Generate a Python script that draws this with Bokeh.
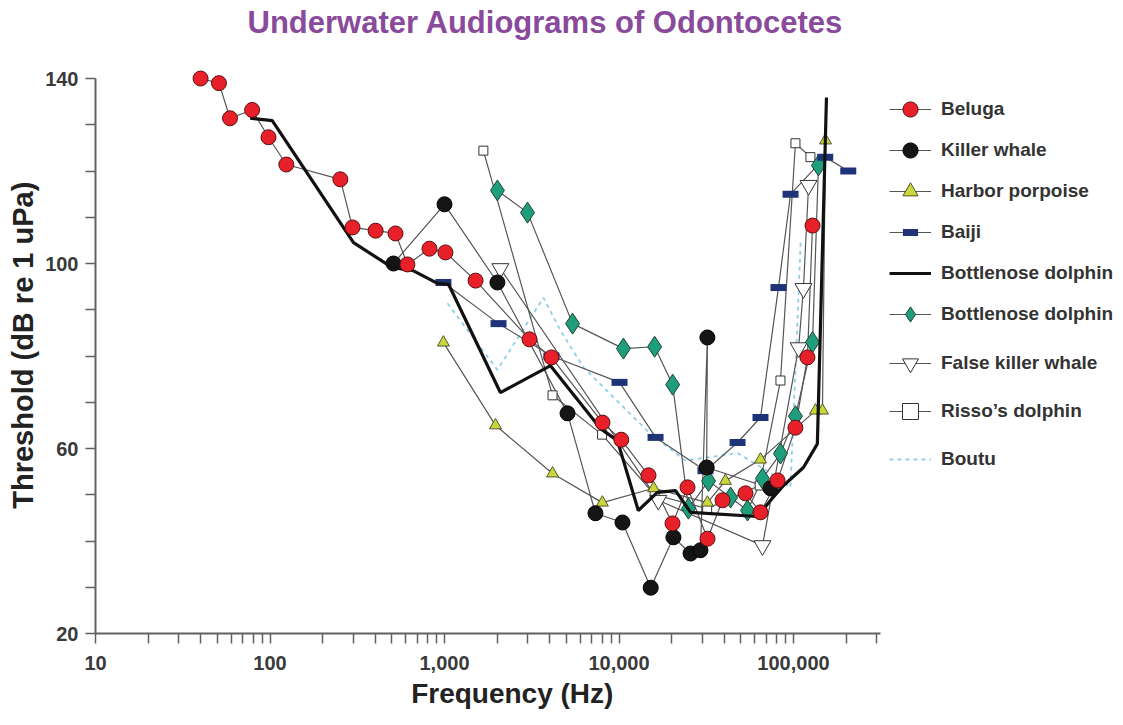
from bokeh.plotting import figure
from bokeh.models import FixedTicker, Legend, LegendItem, Range1d, Label
from bokeh.embed import file_html
from bokeh.resources import INLINE

# ---------------- data ----------------
beluga_f = [40, 51, 59, 79, 98, 124, 253, 297, 403, 524, 613, 820, 1013, 1507, 3070, 4100,
            8040, 10300, 14760, 20260, 24700, 32150, 39200, 53100, 64700, 81000, 102600, 120200, 128500]
beluga_db = [140, 139, 131.4, 133.2, 127.3, 121.4, 118.2, 107.8, 107.1, 106.5, 99.8, 103.2, 102.4, 96.3,
             83.6, 79.7, 65.6, 61.9, 54.2, 43.8, 51.6, 40.5, 48.8, 50.3, 46.2, 53.1, 64.5, 79.7, 108.2]

killer_f = [510, 1000, 2010, 5070, 7330, 10470, 15200, 20500, 25700, 29300, 32100, 31800, 73800]
killer_db = [100, 112.8, 95.9, 67.6, 46, 44, 29.9, 40.8, 37.3, 38, 84, 55.9, 51.4]

harbor_f = [986, 1960, 4160, 8030, 15800, 32100, 40700, 64700, 133700, 146500, 152500]
harbor_db = [82.9, 65, 54.6, 48.3, 51.4, 48.3, 53, 57.6, 68.2, 68.2, 126.6]

baiji_f = [986, 2040, 4100, 10070, 16200, 31300, 47800, 64700, 82000, 96200, 152000, 206000]
baiji_db = [95.9, 87, 80, 74.3, 62.4, 55.2, 61.3, 66.7, 94.8, 115, 123, 120]

bottle_f = [77, 103, 301, 503, 656, 912, 1055, 2090, 4050, 7830, 9800, 12900, 16600, 21100,
            25700, 62200, 74000, 87700, 114000, 137000, 154500]
bottle_db = [131.4, 130.9, 104.5, 99.1, 98.5, 95.7, 95.5, 72.1, 77.9, 64.3, 61.7, 46.6, 50.5, 50.9,
             46.2, 45.3, 48.8, 52, 55.9, 61, 135.9]

bottle2_f = [2010, 2990, 5420, 10600, 16000, 20300, 25000, 32600, 43600, 54500, 66400, 84200, 102600, 128500, 139000]
bottle2_db = [115.8, 111, 87, 81.6, 82, 73.8, 47, 53, 49.4, 46.6, 53.5, 58.9, 67, 83, 121.2]

fkw_f = [2090, 16800, 66400, 107000, 114000, 122000]
fkw_db = [98.9, 48.8, 39, 81.8, 94.6, 116.9]

risso_f = [1670, 4160, 8000, 16000, 32000, 64000, 84200, 102600, 125000]
risso_db = [124.4, 71.5, 63, 50, 47, 52, 74.7, 126, 123]

boutu_f = [1040, 2010, 3690, 4620, 6270, 15100, 24000, 47800, 72000, 96000, 105000, 110000]
boutu_db = [91.4, 77, 92.6, 85.5, 77.5, 63.2, 57.4, 59, 55, 51.6, 86, 105]

x_major = [10, 100, 1000, 10000, 100000]
x_labels = ["10", "100", "1,000", "10,000", "100,000"]
y_major = [20, 60, 100, 140]
y_minor = [30, 40, 50, 70, 80, 90, 110, 120, 130]

FONT = "Liberation Sans"
LINE = "#555555"

# the frame spans the whole canvas to the right and top, so the legend and title
# (which lie outside the drawn axes) are not clipped; the axes are bounded.
PX_PER_DECADE = 174.5
PX_PER_DB = 4.625
FRAME_W = 1123 - 95
FRAME_H = 725 - 92
x_end = 10 ** (1 + FRAME_W / PX_PER_DECADE)
y_end = 20 + FRAME_H / PX_PER_DB
X_AXIS_END = 315000

p = figure(width=1123, height=725, x_axis_type="log",
           x_range=Range1d(10, x_end), y_range=Range1d(20, y_end),
           output_backend="svg", toolbar_location=None, title=None,
           min_border_left=95, min_border_right=0, min_border_top=0, min_border_bottom=92)
p.xgrid.visible = False
p.ygrid.visible = False
p.outline_line_color = None

x_minor = [k * 10 ** d for d in range(1, 6) for k in range(2, 10) if k * 10 ** d <= X_AXIS_END]
p.xaxis.ticker = FixedTicker(ticks=x_major, minor_ticks=x_minor)
p.xaxis.major_label_overrides = {v: s for v, s in zip(x_major, x_labels)}
p.xaxis.bounds = (10, X_AXIS_END)
p.yaxis.ticker = FixedTicker(ticks=y_major, minor_ticks=y_minor)
p.yaxis.bounds = (20, 140)

for ax in (p.xaxis, p.yaxis):
    ax.axis_line_color = "#606060"
    ax.axis_line_width = 2
    ax.major_tick_line_color = "#606060"
    ax.minor_tick_line_color = "#606060"
    ax.major_tick_line_width = 1.5
    ax.minor_tick_line_width = 1.5
    ax.major_tick_out = 10
    ax.major_tick_in = 0
    ax.minor_tick_out = 10
    ax.minor_tick_in = 0
    ax.major_label_text_font = FONT
    ax.major_label_text_font_style = "bold"
    ax.major_label_text_font_size = "20px"
    ax.major_label_text_color = "#3a3a3a"
    ax.axis_label_text_font = FONT
    ax.axis_label_text_font_style = "bold"
    ax.axis_label_text_color = "#222222"
p.xaxis.major_label_standoff = 12
p.yaxis.major_label_standoff = 7
# no-break spaces shift the centred labels so they sit where the reference has them
p.xaxis.axis_label = "Frequency (Hz)" + "\u00a0" * 25
p.xaxis.axis_label_text_font_size = "28px"
p.yaxis.axis_label = "Threshold (dB re 1 uPa)" + "\u00a0" * 7
p.yaxis.axis_label_text_font_size = "29px"
p.xaxis.axis_label_standoff = 5
p.yaxis.axis_label_standoff = 3

# thin connecting lines
r_boutu = p.line(boutu_f, boutu_db, line_color="#8fd0e8", line_width=1.8, line_dash="4 4")
l_risso = p.line(risso_f, risso_db, line_color=LINE, line_width=1.2)
l_fkw = p.line(fkw_f, fkw_db, line_color=LINE, line_width=1.2)
l_harbor = p.line(harbor_f, harbor_db, line_color=LINE, line_width=1.2)
l_b2 = p.line(bottle2_f, bottle2_db, line_color=LINE, line_width=1.2)
l_baiji = p.line(baiji_f, baiji_db, line_color=LINE, line_width=1.2)
l_killer = p.line(killer_f, killer_db, line_color=LINE, line_width=1.2)
l_beluga = p.line(beluga_f, beluga_db, line_color=LINE, line_width=1.2)

# markers
m_risso = p.scatter(risso_f, risso_db, marker="square", size=9, fill_color="white", line_color="#333333", line_width=1)
m_fkw = p.scatter(fkw_f, fkw_db, marker="inverted_triangle", size=17, fill_color="white", line_color="#333333", line_width=1)
m_harbor = p.scatter(harbor_f, harbor_db, marker="triangle", size=12, fill_color="#c9d73a", line_color="#555533", line_width=1)
m_b2 = p.scatter(bottle2_f, bottle2_db, marker="diamond", size=21, fill_color="#1f9e7e", line_color="#224433", line_width=1)
m_baiji = p.scatter(baiji_f, baiji_db, marker="dash", size=16, line_color="#1f3478", line_width=7, line_cap="butt")
m_killer = p.scatter(killer_f, killer_db, marker="circle", size=15, fill_color="#151515", line_color="#000000", line_width=1)
r_bottle = p.line(bottle_f, bottle_db, line_color="#111111", line_width=3.2)
m_beluga = p.scatter(beluga_f, beluga_db, marker="circle", size=15, fill_color="#e8202a", line_color="#5a1010", line_width=1)

items_a = [
    LegendItem(label="Beluga", renderers=[l_beluga, m_beluga]),
    LegendItem(label="Killer whale", renderers=[l_killer, m_killer]),
    LegendItem(label="Harbor porpoise", renderers=[l_harbor, m_harbor]),
    LegendItem(label="Baiji", renderers=[l_baiji, m_baiji]),
    LegendItem(label="Bottlenose dolphin", renderers=[r_bottle]),
    LegendItem(label="Bottlenose dolphin", renderers=[l_b2, m_b2]),
]
items_b = [
    LegendItem(label="False killer whale", renderers=[l_fkw, m_fkw]),
    LegendItem(label="Risso\u2019s dolphin", renderers=[l_risso, m_risso]),
    LegendItem(label="Boutu", renderers=[r_boutu]),
]
common = dict(orientation="vertical", glyph_width=42, padding=4, margin=0,
              label_standoff=10, label_text_font=FONT, label_text_font_style="bold",
              label_text_font_size="19px", label_text_color="#333333",
              border_line_color=None, background_fill_alpha=0)
p.add_layout(Legend(items=items_a, location=(794, 300), glyph_height=38, spacing=3, **common))
p.add_layout(Legend(items=items_b, location=(794, 154), glyph_height=40, spacing=8, **common))

p.add_layout(Label(x=450, y=FRAME_H - 22, x_units="screen", y_units="screen",
                   text="Underwater Audiograms of Odontocetes", text_align="center",
                   text_baseline="middle", text_font=FONT, text_font_style="bold",
                   text_font_size="31px", text_color="#8a4a9c"))

open("out.html", "w").write(file_html(p, INLINE))
